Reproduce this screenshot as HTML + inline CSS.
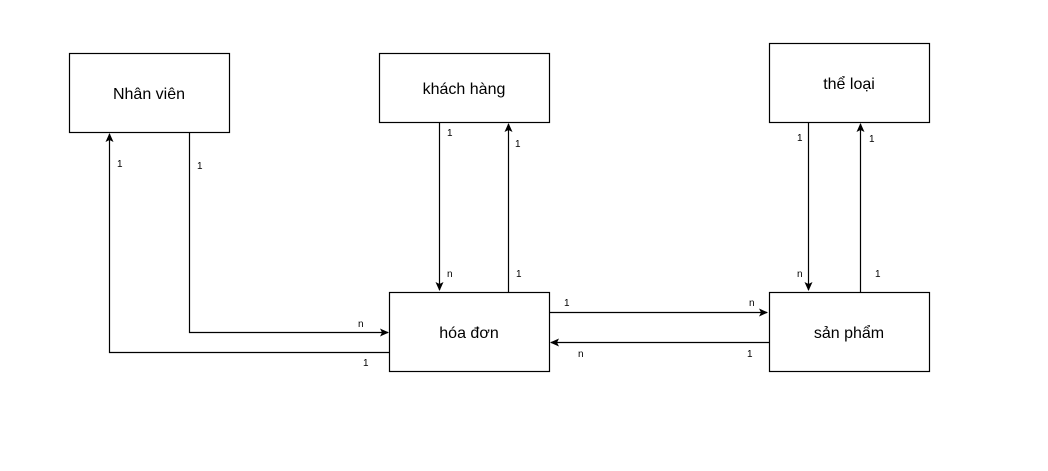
<!DOCTYPE html>
<html><head><meta charset="utf-8"><style>
body{margin:0;background:#fff;}
svg{display:block}
text{font-family:"Liberation Sans","DejaVu Sans",sans-serif;fill:#000}
.l{font-size:10px}
.b{font-size:16px}
</style></head><body>
<svg width="1048" height="471" viewBox="0 0 1048 471" xmlns="http://www.w3.org/2000/svg">
<defs><marker id="a" markerWidth="10" markerHeight="10" refX="8" refY="5" orient="auto" markerUnits="userSpaceOnUse"><path d="M0,1 L9,5 L0,9 L2,5 Z" fill="#000"/></marker></defs>
<rect width="1048" height="471" fill="#fff"/>
<g fill="none" stroke="#000" stroke-width="1.2">
<rect x="69.5" y="53.5" width="160" height="79"/>
<rect x="379.5" y="53.5" width="170" height="69"/>
<rect x="769.5" y="43.5" width="160" height="79"/>
<rect x="389.5" y="292.5" width="160" height="79"/>
<rect x="769.5" y="292.5" width="160" height="79"/>
<path d="M189.5,132 V332.5 H388" marker-end="url(#a)"/>
<path d="M389,352.5 H109.5 V134" marker-end="url(#a)"/>
<path d="M439.5,122 V290" marker-end="url(#a)"/>
<path d="M508.5,292 V124" marker-end="url(#a)"/>
<path d="M808.5,122 V290" marker-end="url(#a)"/>
<path d="M860.5,292 V124" marker-end="url(#a)"/>
<path d="M549,312.5 H767" marker-end="url(#a)"/>
<path d="M769,342.5 H551" marker-end="url(#a)"/>
</g>
<g class="b" text-anchor="middle">
<text x="149" y="99">Nhân viên</text>
<text x="464" y="94">khách hàng</text>
<text x="849" y="89">thể loại</text>
<text x="469" y="338">hóa đơn</text>
<text x="849" y="338">sản phẩm</text>
</g>
<g class="l">
<text x="197" y="169">1</text><text x="358" y="327">n</text>
<text x="117" y="167">1</text><text x="363" y="366">1</text>
<text x="447" y="136">1</text><text x="447" y="277">n</text>
<text x="515" y="147">1</text><text x="516" y="277">1</text>
<text x="797" y="141">1</text><text x="797" y="277">n</text>
<text x="869" y="142">1</text><text x="875" y="277">1</text>
<text x="564" y="306">1</text><text x="749" y="306">n</text>
<text x="578" y="357">n</text><text x="747" y="357">1</text>
</g>
</svg>
</body></html>
